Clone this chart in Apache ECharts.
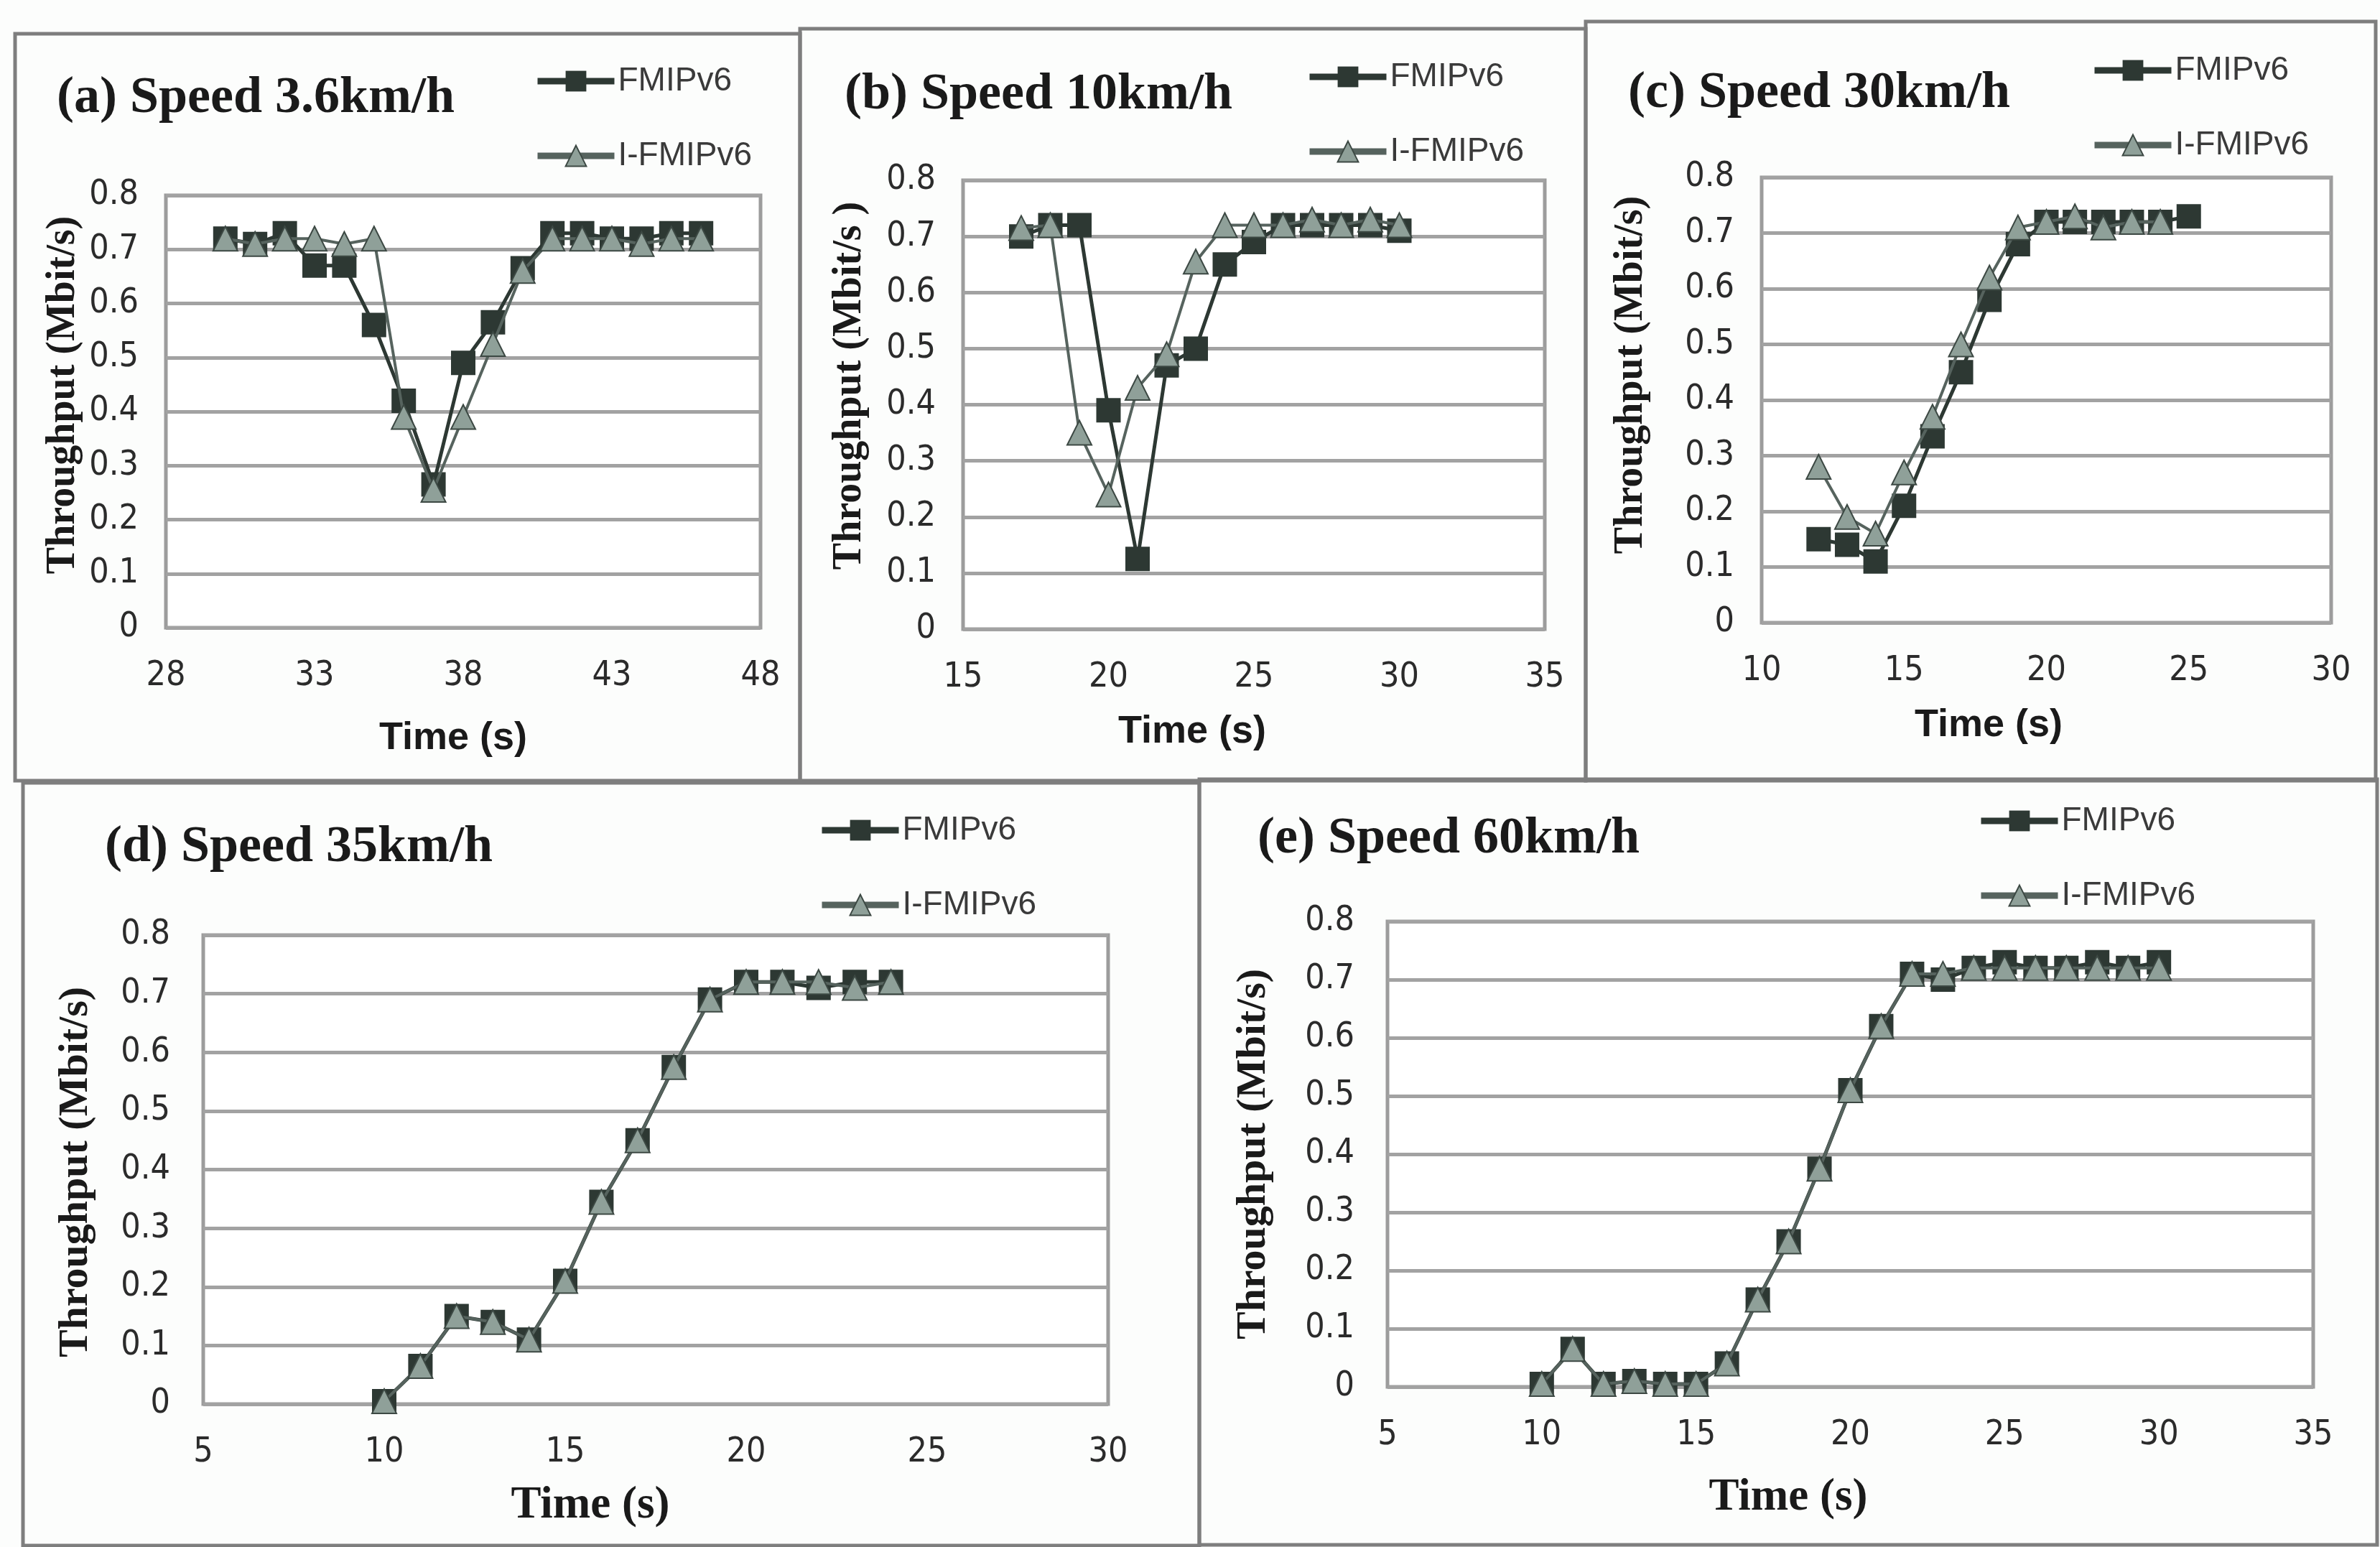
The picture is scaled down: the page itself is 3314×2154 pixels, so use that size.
<!DOCTYPE html>
<html>
<head>
<meta charset="utf-8">
<script src="https://cdn.jsdelivr.net/npm/echarts@6/dist/echarts.min.js"></script>
<style>
  html, body { margin: 0; padding: 0; background: #fcfdfc; }
  #chart { width: 3314px; height: 2154px; }
</style>
</head>
<body>
<div id="chart"></div>
<script>
// ---- data ----
const timeA = [30, 31, 32, 33, 34, 35, 36, 37, 38, 39, 40, 41, 42, 43, 44, 45, 46];
const fmipA = [0.72, 0.71, 0.73, 0.67, 0.67, 0.56, 0.42, 0.265, 0.49, 0.565, 0.665, 0.73, 0.73, 0.72, 0.72, 0.73, 0.73];
const ifmipA = [0.72, 0.71, 0.72, 0.72, 0.71, 0.72, 0.39, 0.255, 0.39, 0.525, 0.66, 0.72, 0.72, 0.72, 0.71, 0.72, 0.72];

const timeB = [17, 18, 19, 20, 21, 22, 23, 24, 25, 26, 27, 28, 29, 30];
const fmipB = [0.70, 0.72, 0.72, 0.39, 0.125, 0.47, 0.50, 0.65, 0.69, 0.72, 0.72, 0.72, 0.72, 0.71];
const ifmipB = [0.715, 0.72, 0.35, 0.24, 0.43, 0.49, 0.655, 0.72, 0.72, 0.72, 0.73, 0.72, 0.73, 0.72];

const timeCf = [12, 13, 14, 15, 16, 17, 18, 19, 20, 21, 22, 23, 24, 25];
const fmipC = [0.15, 0.14, 0.11, 0.21, 0.335, 0.45, 0.58, 0.68, 0.72, 0.72, 0.72, 0.72, 0.72, 0.73];
const timeCi = [12, 13, 14, 15, 16, 17, 18, 19, 20, 21, 22, 23, 24];
const ifmipC = [0.28, 0.19, 0.16, 0.27, 0.37, 0.50, 0.62, 0.71, 0.72, 0.73, 0.71, 0.72, 0.72];

const timeD = [10, 11, 12, 13, 14, 15, 16, 17, 18, 19, 20, 21, 22, 23, 24];
const fmipD = [0.005, 0.065, 0.15, 0.14, 0.11, 0.21, 0.345, 0.45, 0.575, 0.69, 0.72, 0.72, 0.71, 0.72, 0.72];
const ifmipD = [0.005, 0.065, 0.15, 0.14, 0.11, 0.21, 0.345, 0.45, 0.575, 0.69, 0.72, 0.72, 0.72, 0.71, 0.72];

const timeE = [10, 11, 12, 13, 14, 15, 16, 17, 18, 19, 20, 21, 22, 23, 24, 25, 26, 27, 28, 29, 30];
const fmipE = [0.005, 0.065, 0.005, 0.01, 0.005, 0.005, 0.04, 0.15, 0.25, 0.375, 0.51, 0.62, 0.71, 0.70, 0.72, 0.73, 0.72, 0.72, 0.73, 0.72, 0.73];
const ifmipE = [0.005, 0.065, 0.005, 0.01, 0.005, 0.005, 0.04, 0.15, 0.25, 0.375, 0.51, 0.62, 0.71, 0.71, 0.72, 0.72, 0.72, 0.72, 0.72, 0.72, 0.72];

const xTicksA = [28, 33, 38, 43, 48];
const xTicksB = [15, 20, 25, 30, 35];
const xTicksC = [10, 15, 20, 25, 30];
const xTicksD = [5, 10, 15, 20, 25, 30];
const xTicksE = [5, 10, 15, 20, 25, 30, 35];

const titles = ['(a) Speed 3.6km/h', '(b) Speed 10km/h', '(c) Speed 30km/h', '(d) Speed 35km/h', '(e) Speed 60km/h'];
const seriesNames = ['FMIPv6', 'I-FMIPv6'];
const xTitle = 'Time (s)';
const yTitles = ['Throughput (Mbit/s)', 'Throughput (Mbit/s )', 'Throughput (Mbit/s)', 'Throughput (Mbit/s)', 'Throughput (Mbit/s)'];

// ---- layout ----
const panels = [
  { grid: { left: 231, top: 272, width: 828, height: 602 }, ticks: xTicksA,
    frame: [21, 47, 1093, 1040], title: [79, 137], leg: [739, 103],
    xt: [631, 1028, 'sans'], yt: [89, 550],
    f: [timeA, fmipA], i: [timeA, ifmipA] },
  { grid: { left: 1341, top: 251, width: 810, height: 625 }, ticks: xTicksB,
    frame: [1114, 40, 1094, 1047], title: [1176, 132], leg: [1814, 97],
    xt: [1660, 1019, 'sans'], yt: [1184, 537],
    f: [timeB, fmipB], i: [timeB, ifmipB] },
  { grid: { left: 2453, top: 247, width: 793, height: 620 }, ticks: xTicksC,
    frame: [2208, 30, 1100, 1057], title: [2267, 130], leg: [2907, 88],
    xt: [2769, 1010, 'sans'], yt: [2272, 522],
    f: [timeCf, fmipC], i: [timeCi, ifmipC] },
  { grid: { left: 283, top: 1302, width: 1260, height: 653 }, ticks: xTicksD,
    frame: [32, 1090, 1638, 1062], title: [146, 1180], leg: [1135, 1146],
    xt: [822, 2097, 'serif'], yt: [106, 1632],
    f: [timeD, fmipD], i: [timeD, ifmipD] },
  { grid: { left: 1932, top: 1283, width: 1289, height: 648 }, ticks: xTicksE,
    frame: [1670, 1085, 1640, 1066], title: [1751, 1168], leg: [2749, 1133],
    xt: [2490, 2086, 'serif'], yt: [1746, 1607],
    f: [timeE, fmipE], i: [timeE, ifmipE] }
];

const tickFont = "'Liberation Sans Narrow', 'Arial Narrow', 'DejaVu Sans Condensed', 'Liberation Sans', sans-serif";
const serif = "'Liberation Serif', 'DejaVu Serif', serif";
const sans = "'Liberation Sans', 'DejaVu Sans', sans-serif";

function pairs(t, v) { return t.map((x, k) => [x, v[k]]); }

const grids = [], xAxes = [], yAxes = [], series = [], legends = [], graphics = [];

panels.forEach((p, idx) => {
  grids.push(Object.assign({ show: true, backgroundColor: '#ffffff', borderColor: '#9c9c9c', borderWidth: 5 }, p.grid));
  const tk = p.ticks;
  xAxes.push({
    type: 'value', gridIndex: idx, min: tk[0], max: tk[tk.length - 1],
    axisLine: { show: false }, axisTick: { show: false }, splitLine: { show: false },
    axisLabel: { customValues: tk, fontSize: 48, lineHeight: 48, color: '#2b2b2b', margin: 44, fontFamily: tickFont }
  });
  yAxes.push({
    type: 'value', gridIndex: idx, min: 0, max: 0.8, interval: 0.1,
    axisLine: { show: false }, axisTick: { show: false },
    splitLine: { show: true, lineStyle: { color: '#a2a2a2', width: 5 } },
    axisLabel: { fontSize: 48, color: '#2b2b2b', margin: idx >= 3 ? 46 : 38, fontFamily: tickFont }
  });
  series.push({
    name: seriesNames[0], type: 'line', xAxisIndex: idx, yAxisIndex: idx,
    data: pairs(p.f[0], p.f[1]), symbol: 'rect', symbolSize: 34,
    itemStyle: { color: '#2d3833' }, lineStyle: { color: '#2d3833', width: 5 },
    z: 3, animation: false
  });
  series.push({
    name: seriesNames[1], type: 'line', xAxisIndex: idx, yAxisIndex: idx,
    data: pairs(p.i[0], p.i[1]), symbol: 'triangle', symbolSize: 34,
    itemStyle: { color: '#8fa099', borderColor: '#3c4843', borderWidth: 2 },
    lineStyle: { color: '#56635e', width: 4 },
    z: 4, animation: false
  });
  legends.push({
    left: p.leg[0], top: p.leg[1] - 18, orient: 'vertical',
    itemWidth: 107, itemHeight: 36, itemGap: 58,
    data: seriesNames, selectedMode: false,
    lineStyle: { width: 9 },
    textStyle: { fontSize: 46, color: '#3a3a3a', fontFamily: sans }
  });
  graphics.push({
    type: 'rect', shape: { x: p.frame[0], y: p.frame[1], width: p.frame[2], height: p.frame[3] },
    style: { fill: 'none', stroke: '#7e7e7e', lineWidth: 5 }, z: 0
  });
  graphics.push({
    type: 'text', x: p.title[0], y: p.title[1],
    style: { text: titles[idx], fontSize: 72, fontWeight: 'bold', fontFamily: serif, fill: '#1a1a1a', align: 'left', verticalAlign: 'middle' }
  });
  const isSerif = p.xt[2] === 'serif';
  graphics.push({
    type: 'text', x: p.xt[0], y: p.xt[1],
    style: { text: xTitle, fontSize: isSerif ? 63 : 54, fontWeight: 'bold', fontFamily: isSerif ? serif : sans, fill: '#1a1a1a', align: 'center', verticalAlign: 'middle' }
  });
  graphics.push({
    type: 'text', x: p.yt[0], y: p.yt[1], rotation: Math.PI / 2,
    style: { text: yTitles[idx], fontSize: idx >= 3 ? 58 : 56, fontWeight: 'bold', fontFamily: serif, fill: '#1a1a1a', align: 'center', verticalAlign: 'middle' }
  });
});

const chart = echarts.init(document.getElementById('chart'), null, { renderer: 'canvas' });
chart.setOption({
  backgroundColor: '#fcfdfc',
  animation: false,
  grid: grids,
  xAxis: xAxes,
  yAxis: yAxes,
  legend: legends,
  series: series,
  graphic: graphics
});
</script>
</body>
</html>
